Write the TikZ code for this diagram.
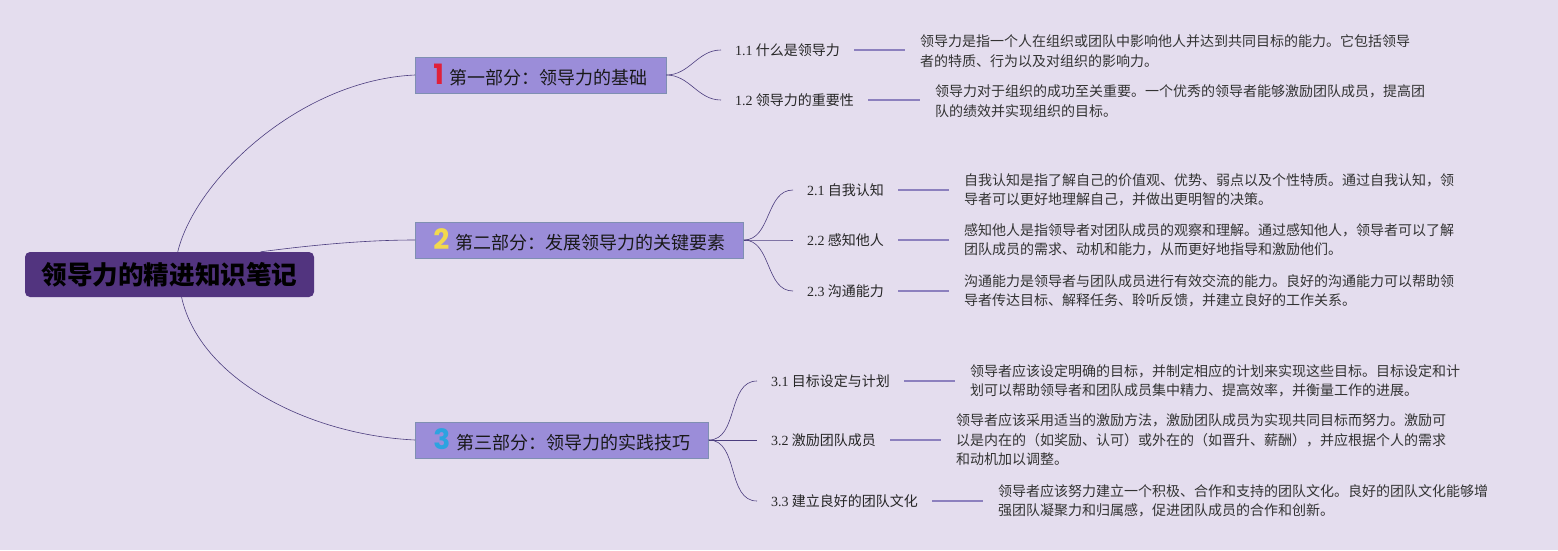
\documentclass[tikz,border=0pt]{standalone}
\usepackage{fontspec}
\setmainfont{Noto Sans CJK SC}
\newfontfamily\numfont{Liberation Serif}
\newfontfamily\digitfont{Poppins}
\definecolor{bg}{HTML}{E4DDEE}
\definecolor{rootfill}{HTML}{52347F}
\definecolor{partfill}{HTML}{9B8DD9}
\definecolor{partline}{HTML}{7F8FB2}
\definecolor{linkcol}{HTML}{4B3D7E}
\definecolor{stubcol}{HTML}{8C80BE}
\definecolor{numred}{HTML}{E0203A}
\definecolor{numyellow}{HTML}{F2D94E}
\definecolor{numblue}{HTML}{2DA3E0}

\begin{document}
\begin{tikzpicture}[x=1pt,y=-1pt,
  root/.style={fill=rootfill,rounded corners=5pt,minimum width=289pt,minimum height=45pt,
    inner sep=0pt,font=\fontsize{25.6}{26}\selectfont\bfseries,text=black},
  part/.style={anchor=west,fill=partfill,draw=partline,line width=0.8pt,minimum height=36pt,
    inner xsep=18pt,inner ysep=0pt,font=\fontsize{18}{18}\selectfont,text=black!90},
  sub/.style={anchor=west,inner xsep=14pt,inner ysep=2pt,font=\fontsize{14}{14}\selectfont,text=black!85},
  desc/.style={anchor=west,inner xsep=15pt,inner ysep=2pt,align=left,
    font=\fontsize{14}{19.5}\selectfont,text=black!80},
  link/.style={draw=linkcol,line width=0.6pt},
  stub/.style={draw=stubcol,line width=1.5pt}]
\fill[bg] (0,0) rectangle (1558,550);
\useasboundingbox (0,0) rectangle (1558,550);

\node[root] (root) at (169.5,274.5) {领导力的精进知识笔记};

\node[part] (p1) at (415,75) {{\digitfont\bfseries\fontsize{28}{28}\selectfont\color{numred}1}\hspace{6pt}第一部分：领导力的基础};
\node[part] (p2) at (415,240) {{\digitfont\bfseries\fontsize{28}{28}\selectfont\color{numyellow}2}\hspace{6pt}第二部分：发展领导力的关键要素};
\node[part] (p3) at (415,440) {{\digitfont\bfseries\fontsize{28}{28}\selectfont\color{numblue}3}\hspace{6pt}第三部分：领导力的实践技巧};

\draw[link] (root.70) .. controls (195,180) and (300,80) .. (p1.west);
\draw[link] (root.14) .. controls (320,244) and (370,240) .. (p2.west);
\draw[link] (root.-62) .. controls (200,380) and (310,435) .. (p3.west);

\node[sub] (s11) at (721,50) {{\numfont 1.1} 什么是领导力};
\node[sub] (s12) at (721,100) {{\numfont 1.2} 领导力的重要性};
\node[sub] (s21) at (793,190) {{\numfont 2.1} 自我认知};
\node[sub] (s22) at (793,240) {{\numfont 2.2} 感知他人};
\node[sub] (s23) at (793,291) {{\numfont 2.3} 沟通能力};
\node[sub] (s31) at (757,381) {{\numfont 3.1} 目标设定与计划};
\node[sub] (s32) at (757,440) {{\numfont 3.2} 激励团队成员};
\node[sub] (s33) at (757,501) {{\numfont 3.3} 建立良好的团队文化};

\node[desc] (d11) at (905,51) {领导力是指一个人在组织或团队中影响他人并达到共同目标的能力。它包括领导\\者的特质、行为以及对组织的影响力。};
\node[desc] (d12) at (920,101) {领导力对于组织的成功至关重要。一个优秀的领导者能够激励团队成员，提高团\\队的绩效并实现组织的目标。};
\node[desc] (d21) at (949,190) {自我认知是指了解自己的价值观、优势、弱点以及个性特质。通过自我认知，领\\导者可以更好地理解自己，并做出更明智的决策。};
\node[desc] (d22) at (949,240) {感知他人是指领导者对团队成员的观察和理解。通过感知他人，领导者可以了解\\团队成员的需求、动机和能力，从而更好地指导和激励他们。};
\node[desc] (d23) at (949,291) {沟通能力是领导者与团队成员进行有效交流的能力。良好的沟通能力可以帮助领\\导者传达目标、解释任务、聆听反馈，并建立良好的工作关系。};
\node[desc] (d31) at (955,381) {领导者应该设定明确的目标，并制定相应的计划来实现这些目标。目标设定和计\\划可以帮助领导者和团队成员集中精力、提高效率，并衡量工作的进展。};
\node[desc] (d32) at (941,440) {领导者应该采用适当的激励方法，激励团队成员为实现共同目标而努力。激励可\\以是内在的（如奖励、认可）或外在的（如晋升、薪酬），并应根据个人的需求\\和动机加以调整。};
\node[desc] (d33) at (983,501) {领导者应该努力建立一个积极、合作和支持的团队文化。良好的团队文化能够增\\强团队凝聚力和归属感，促进团队成员的合作和创新。};

\foreach \p/\s in {p1/s11,p1/s12,p2/s21,p2/s22,p2/s23,p3/s31,p3/s32,p3/s33}
  \draw[link] (\p.east) to[out=0,in=180] (\s.west);
\foreach \s/\d in {s11/d11,s12/d12,s21/d21,s22/d22,s23/d23,s31/d31,s32/d32,s33/d33}
  \draw[stub] (\s.east) -- (\s.east -| \d.west);
\end{tikzpicture}
\end{document}
